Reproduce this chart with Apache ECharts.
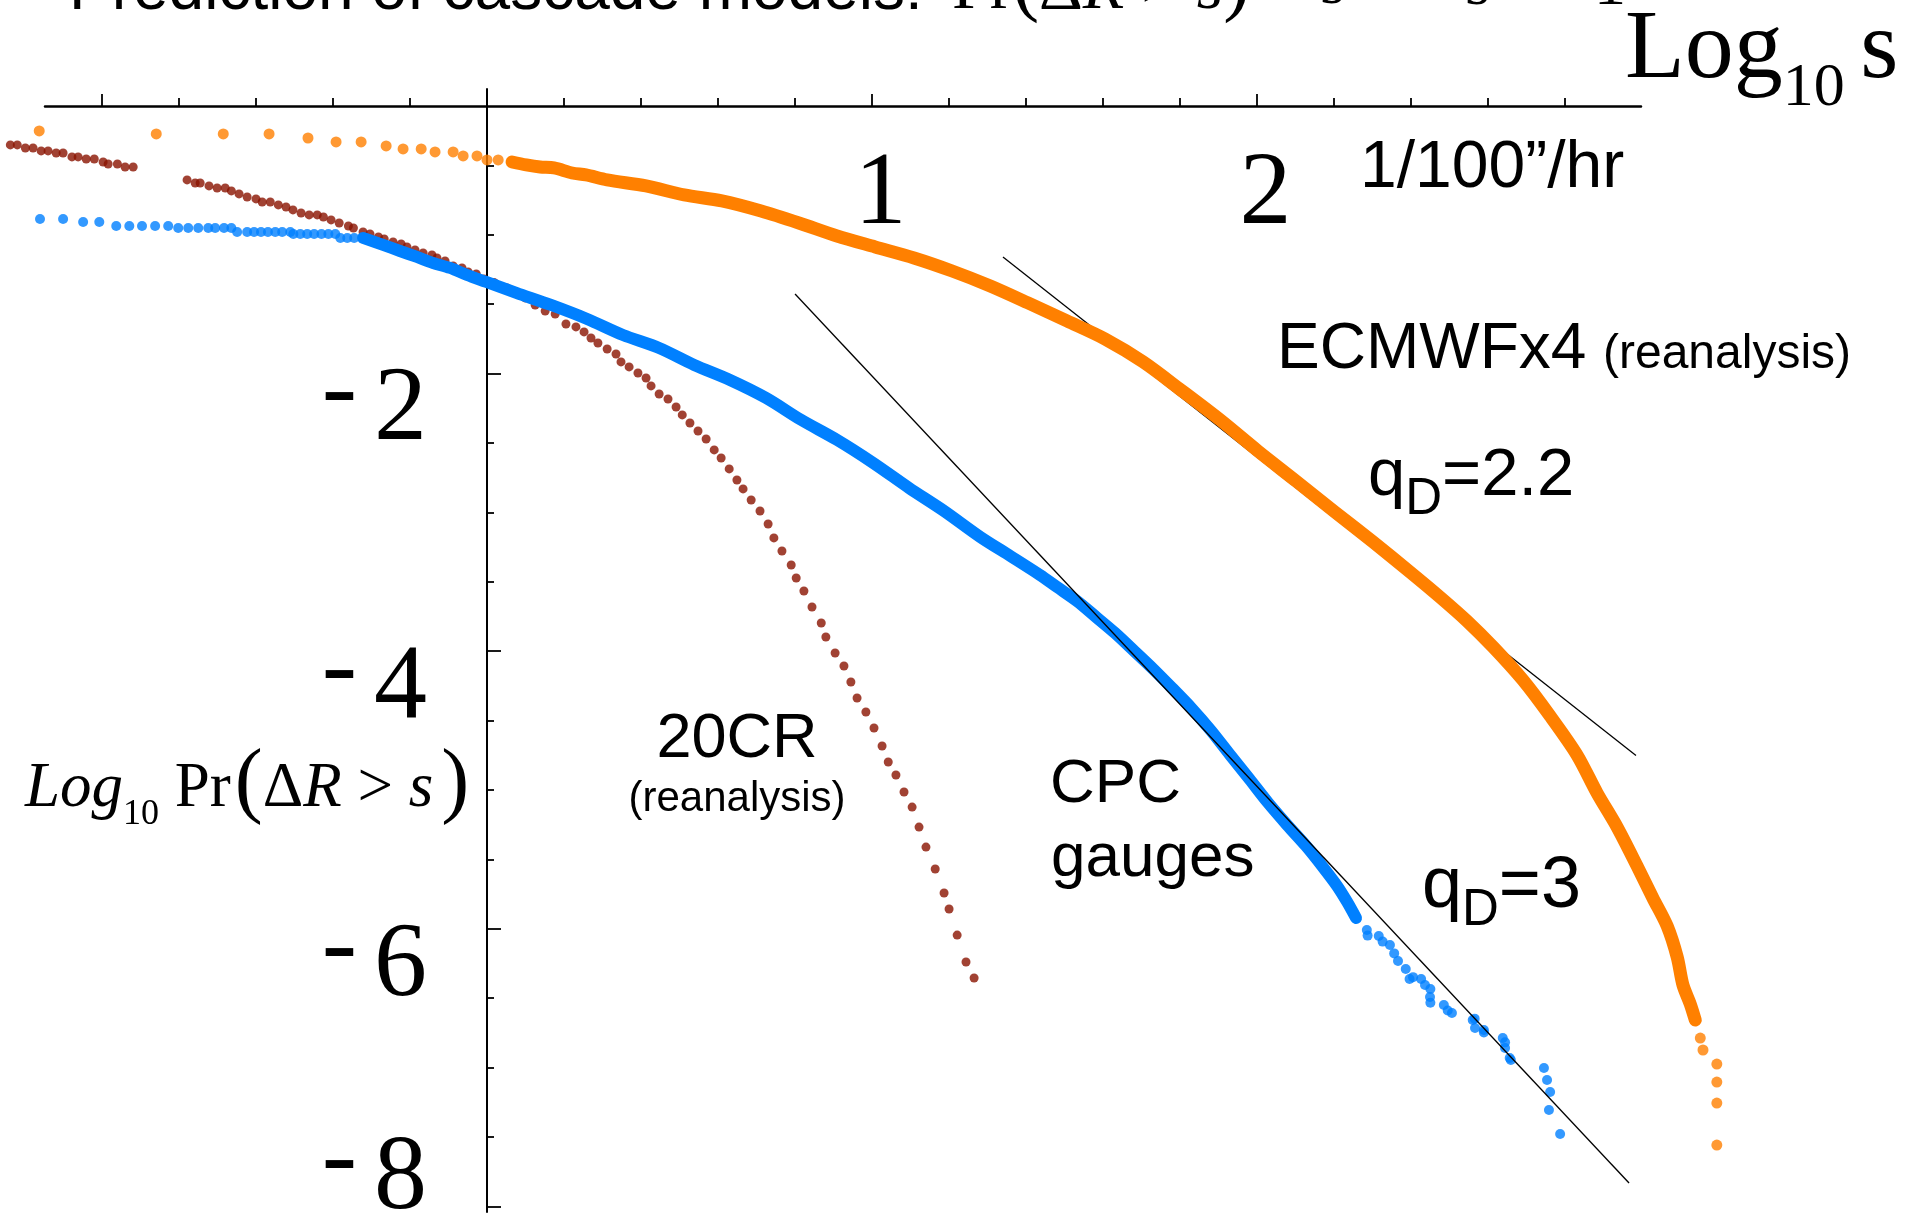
<!DOCTYPE html>
<html>
<head>
<meta charset="utf-8">
<style>
html,body{margin:0;padding:0;background:#fff;}
#main{width:1923px;height:1217px;}
</style>
<script src="https://cdn.jsdelivr.net/npm/echarts@6.0.0/dist/echarts.min.js"></script>
</head>
<body>
<div id="main"></div>
<script>
// axes: log10 s (x), log10 Pr(dR > s) (y)
var xMin = -1.148, xMax = 2.997, xDataMax = 3.2;
var xMajorTicks = [-1, 0, 1, 2];
var xMinorTicks = [-0.8, -0.6, -0.4, -0.2, 0.2, 0.4, 0.6, 0.8, 1.2, 1.4, 1.6, 1.8, 2.2, 2.4, 2.6, 2.8];
var xTickLabels = [1, 2];
var yMin = -8.04, yMax = 0.05;
var yMajorTicks = [-2, -4, -6, -8];
var yMinorTicks = [-0.5, -1, -1.5, -2.5, -3, -3.5, -4.5, -5, -5.5, -6.5, -7, -7.5];
var yTickLabels = [-2, -4, -6, -8];

// ECMWFx4 (orange)
var ecmwfSparse = [[-1.163,-0.252],[-0.859,-0.274],[-0.685,-0.274],[-0.566,-0.274],[-0.465,-0.303],[-0.392,-0.331],
  [-0.327,-0.331],[-0.262,-0.360],[-0.218,-0.382],[-0.171,-0.382],[-0.135,-0.403],[-0.088,-0.403],[-0.062,-0.432],
  [-0.026,-0.432],[0.000,-0.461],[0.029,-0.461]];
var ecmwfBand = [[0.065,-0.476],[0.102,-0.497],[0.138,-0.512],[0.174,-0.519],[0.221,-0.555],
  [0.257,-0.569],[0.312,-0.605],[0.413,-0.648],[0.512,-0.713],[0.610,-0.756],[0.712,-0.829],[0.810,-0.915],
  [0.909,-1.009],[1.008,-1.088],[1.109,-1.167],[1.208,-1.261],[1.307,-1.369],[1.405,-1.491],[1.506,-1.621],[1.605,-1.751],
  [1.704,-1.916],[1.802,-2.118],[1.904,-2.334],[2.002,-2.558],[2.101,-2.774],[2.202,-2.997],[2.301,-3.213],[2.397,-3.429],
  [2.475,-3.610],[2.545,-3.782],[2.613,-3.970],[2.690,-4.207],[2.761,-4.467],[2.831,-4.748],[2.883,-5.022],[2.935,-5.267],
  [2.987,-5.548],[3.028,-5.778],[3.065,-5.980],[3.091,-6.203],[3.106,-6.405],[3.125,-6.542],[3.138,-6.657]];
var ecmwfTail = [[3.151,-6.787],[3.158,-6.873],[3.194,-6.974],[3.194,-7.104],[3.194,-7.255],[3.194,-7.558]];

// CPC gauges (blue)
var cpcSparse = [[-1.161,-0.886],[-1.101,-0.886],[-1.049,-0.908],[-1.007,-0.908],[-0.963,-0.937],[-0.929,-0.937],
  [-0.896,-0.937],[-0.862,-0.937],[-0.828,-0.937],[-0.802,-0.951],[-0.776,-0.951],[-0.750,-0.951],[-0.724,-0.951],
  [-0.706,-0.951],[-0.683,-0.951],[-0.664,-0.951],[-0.649,-0.980],[-0.623,-0.980],[-0.605,-0.980],[-0.587,-0.980],
  [-0.569,-0.980],[-0.550,-0.980],[-0.532,-0.980],[-0.511,-0.980],[-0.503,-0.994],[-0.485,-0.994],[-0.467,-0.994],
  [-0.449,-0.994],[-0.430,-0.994],[-0.412,-0.994],[-0.394,-0.994],[-0.381,-1.023],[-0.363,-1.023],[-0.345,-1.023]];
var cpcBand = [[-0.322,-1.023],[-0.270,-1.073],[-0.226,-1.117],[-0.182,-1.160],[-0.140,-1.203],[-0.096,-1.239],
  [-0.052,-1.290],[-0.002,-1.340],[0.076,-1.419],[0.166,-1.506],[0.260,-1.607],[0.353,-1.722],[0.447,-1.816],
  [0.538,-1.938],[0.631,-2.046],[0.725,-2.176],[0.816,-2.334],[0.909,-2.478],[1.003,-2.644],[1.096,-2.824],
  [1.187,-2.990],[1.281,-3.177],[1.359,-3.314],[1.436,-3.451],[1.480,-3.537],[1.532,-3.638],[1.582,-3.754],
  [1.631,-3.869],[1.681,-3.999],[1.730,-4.128],[1.779,-4.265],[1.829,-4.409],[1.881,-4.575],[1.930,-4.748],
  [1.980,-4.921],[2.029,-5.094],[2.078,-5.252],[2.127,-5.403],[2.169,-5.548],[2.208,-5.692],[2.234,-5.807],[2.257,-5.922]];
var cpcTail = [[2.285,-6.009],[2.287,-6.049],[2.316,-6.052],[2.326,-6.092],[2.345,-6.117],[2.356,-6.177],[2.366,-6.232],
  [2.386,-6.290],[2.396,-6.362],[2.405,-6.348],[2.426,-6.362],[2.436,-6.405],[2.450,-6.434],[2.449,-6.491],[2.450,-6.532],
  [2.485,-6.549],[2.495,-6.589],[2.506,-6.607],[2.560,-6.657],[2.565,-6.647],[2.566,-6.715],[2.589,-6.729],[2.589,-6.746],
  [2.638,-6.787],[2.644,-6.818],[2.644,-6.859],[2.656,-6.931],[2.659,-6.945],[2.745,-7.003],[2.753,-7.089],[2.761,-7.176],
  [2.758,-7.305],[2.787,-7.478]];

// 20CR (dark red)
var cr20 = [[-1.238,-0.353],[-1.220,-0.353],[-1.199,-0.375],[-1.179,-0.375],[-1.158,-0.396],[-1.140,-0.396],
  [-1.119,-0.411],[-1.101,-0.411],[-1.078,-0.439],[-1.062,-0.439],[-1.041,-0.454],[-1.020,-0.454],[-0.997,-0.476],
  [-0.984,-0.490],[-0.960,-0.490],[-0.940,-0.512],[-0.919,-0.512],
  [-0.779,-0.605],[-0.758,-0.627],[-0.745,-0.627],[-0.722,-0.648],[-0.701,-0.663],[-0.680,-0.663],[-0.664,-0.684],
  [-0.644,-0.706],[-0.623,-0.728],[-0.600,-0.742],[-0.584,-0.764],[-0.563,-0.764],[-0.542,-0.785],[-0.522,-0.800],
  [-0.504,-0.821],[-0.483,-0.843],[-0.462,-0.857],[-0.441,-0.857],[-0.425,-0.872],[-0.405,-0.893],[-0.384,-0.915],
  [-0.360,-0.937],[-0.347,-0.951],[-0.322,-0.980],[-0.304,-0.994],[-0.282,-1.016],[-0.267,-1.030],[-0.244,-1.052],
  [-0.223,-1.066],[-0.208,-1.088],[-0.187,-1.110],[-0.166,-1.131],[-0.143,-1.146],[-0.130,-1.167],[-0.109,-1.189],
  [-0.088,-1.225],[-0.065,-1.239],[-0.049,-1.268],[-0.028,-1.282],[-0.008,-1.318],
  [0.018,-1.344],[0.052,-1.383],[0.076,-1.419],[0.099,-1.455],[0.125,-1.506],[0.151,-1.549],[0.177,-1.571],
  [0.205,-1.643],[0.231,-1.664],[0.252,-1.700],[0.270,-1.744],[0.288,-1.780],[0.312,-1.823],[0.335,-1.859],
  [0.348,-1.916],[0.369,-1.952],[0.392,-1.996],[0.413,-2.032],[0.426,-2.089],[0.447,-2.147],[0.470,-2.183],
  [0.491,-2.241],[0.507,-2.298],[0.527,-2.356],[0.548,-2.414],[0.569,-2.471],[0.590,-2.550],[0.608,-2.608],
  [0.629,-2.687],[0.649,-2.767],[0.665,-2.831],[0.686,-2.911],[0.709,-2.990],[0.730,-3.084],[0.745,-3.184],
  [0.766,-3.278],[0.790,-3.379],[0.803,-3.473],[0.823,-3.566],[0.844,-3.682],[0.868,-3.797],[0.880,-3.898],
  [0.904,-4.013],[0.927,-4.107],[0.945,-4.222],[0.961,-4.337],[0.984,-4.438],[1.005,-4.553],[1.026,-4.683],
  [1.042,-4.798],[1.062,-4.892],[1.083,-5.014],[1.104,-5.123],[1.122,-5.267],[1.140,-5.411],[1.164,-5.569],
  [1.187,-5.742],[1.200,-5.857],[1.221,-6.045],[1.244,-6.239],[1.265,-6.354]];

// fitted power-law lines
var fitQ3 = [[0.800,-1.427],[2.966,-7.831]];
var fitQ22 = [[1.340,-1.160],[2.984,-4.751]];

var ORANGE = '#ff8000', BLUE = '#0080ff', RED = '#8a1300';
var SERIF = 'Liberation Serif', SANS = 'Liberation Sans';

var myChart = echarts.init(document.getElementById('main'));

function txt(x, y, text, rich, align) {
    return {
        type: 'text', x: x, y: y, silent: true,
        style: {
            text: text, rich: rich, fill: '#000',
            align: align || 'left', verticalAlign: 'middle'
        }
    };
}
var sans = function (size, pad) {
    return {fontFamily: SANS, fontSize: size, fill: '#000', padding: pad || 0, verticalAlign: 'middle'};
};
var serif = function (size, pad, italic) {
    return {fontFamily: SERIF, fontSize: size, fill: '#000', padding: pad || 0, verticalAlign: 'middle',
        fontStyle: italic ? 'italic' : 'normal'};
};

var graphics = [
    // title (mostly off the top edge)
    txt(69, -9, '{a|Prediction of cascade models:}', {a: sans(64)}),
    txt(952, -10, '{a|Pr}{p|(}{a|Δ}{i|R}{a| > }{i|s}{p|)}',
        {a: serif(68), i: serif(68, 0, true), p: serif(80, [0, 0, 10, 0])}),
    txt(1270, -14, '{a|≈}', {a: serif(64)}),
    txt(1320, -14, '{a|s}', {a: serif(64)}),
    txt(1347, -70, '{a|−q}{d|D}', {a: serif(40), d: serif(28, [20, 0, 0, 0])}),
    txt(1465, -13, '{a|s >> 1}', {a: serif(64)}),
    // axis names
    txt(1625, 51, '{a|Log}{s|10 }{a|s}', {a: serif(98), s: serif(62, [76, 0, 0, 0])}),
    txt(1360, 169, '{a|1/100”/hr}', {a: sans(66)}),
    txt(25, 789, '{i|Log}{s|10}{a| Pr}{p|(}{a|Δ}{i|R}{a| > }{i|s}{q|)}',
        {a: serif(63), i: serif(63, 0, true), s: serif(36, [52, 0, 0, 0]),
         p: serif(84, [0, 0, 8, 4]), q: serif(84, [0, 0, 8, 8])}),
    // series annotations
    txt(1277, 350, '{a|ECMWFx4}', {a: sans(64)}),
    txt(1603, 355, '{a|(reanalysis)}', {a: sans(48)}),
    txt(1368, 477, '{a|q}{d|D}{a|=2.2}', {a: sans(67), d: sans(51, [45, 0, 0, 0])}),
    txt(1422, 887, '{a|q}{d|D}{a|=3}', {a: sans(72), d: sans(51, [47, 0, 0, 0])}),
    txt(737, 740, '{a|20CR}', {a: sans(63)}, 'center'),
    txt(737, 799, '{a|(reanalysis)}', {a: sans(42)}, 'center'),
    txt(1050, 785, '{a|CPC}', {a: sans(62)}),
    txt(1051, 859, '{a|gauges}', {a: sans(62)})
];

// grid 0 carries the visible axes, grid 1 (same scale, wider) carries the data
var gridTop = 89, gridBottom = 5, gridLeft = 45, pxPerUnit = 385.04;
var yAxisOffset = -(0 - xMin) * pxPerUnit;

var option = {
    animation: false,
    backgroundColor: '#fff',
    grid: [
        {left: gridLeft, right: 1923 - gridLeft - (xMax - xMin) * pxPerUnit, top: gridTop, bottom: gridBottom,
            containLabel: false, outerBoundsMode: 'none'},
        {left: gridLeft, right: 1923 - gridLeft - (xDataMax - xMin) * pxPerUnit, top: gridTop, bottom: gridBottom,
            containLabel: false, outerBoundsMode: 'none'}
    ],
    xAxis: [{
        gridIndex: 0, type: 'value', min: xMin, max: xMax, position: 'top', offset: -17,
        axisLine: {onZero: false, lineStyle: {color: '#000', width: 2.5}},
        axisTick: {length: 12, customValues: xMajorTicks, lineStyle: {color: '#000', width: 1.8}},
        axisLabel: {inside: true, margin: 38, customValues: xTickLabels, color: '#000',
            fontFamily: SERIF, fontSize: 104, padding: [0, 0, 0, 17]},
        splitLine: {show: false}
    }, {
        gridIndex: 0, type: 'value', min: xMin, max: xMax, position: 'top', offset: -17,
        axisLine: {show: false, onZero: false},
        axisTick: {length: 8, customValues: xMinorTicks, lineStyle: {color: '#000', width: 1.8}},
        axisLabel: {show: false},
        splitLine: {show: false}
    }, {
        gridIndex: 1, type: 'value', min: xMin, max: xDataMax, show: false
    }],
    yAxis: [{
        gridIndex: 0, type: 'value', min: yMin, max: yMax, position: 'left', offset: yAxisOffset,
        axisLine: {show: true, onZero: false, lineStyle: {color: '#000', width: 2}},
        axisTick: {inside: true, length: 14, customValues: yMajorTicks, lineStyle: {color: '#000', width: 1.8}},
        axisLabel: {
            show: true, margin: 60, customValues: yTickLabels, color: '#000',
            formatter: function (v) {
                var digit = String(Math.abs(v));
                if (v === yTickLabels[yTickLabels.length - 1]) return '{m2|-}{d2|' + digit + '}';
                return '{m|-}{d|' + digit + '}';
            },
            rich: {
                m: {fontFamily: SERIF, fontSize: 106, color: '#000', padding: [40, 17, 0, 0], verticalAlign: 'middle'},
                d: {fontFamily: SERIF, fontSize: 106, color: '#000', padding: [76, 0, 0, 0], verticalAlign: 'middle'},
                m2: {fontFamily: SERIF, fontSize: 106, color: '#000', padding: [0, 17, 90, 0], verticalAlign: 'middle'},
                d2: {fontFamily: SERIF, fontSize: 106, color: '#000', padding: [0, 0, 53, 0], verticalAlign: 'middle'}
            }
        },
        splitLine: {show: false}
    }, {
        gridIndex: 0, type: 'value', min: yMin, max: yMax, position: 'left', offset: yAxisOffset,
        axisLine: {show: false, onZero: false},
        axisTick: {inside: true, length: 7, customValues: yMinorTicks, lineStyle: {color: '#000', width: 1.8}},
        axisLabel: {show: false},
        splitLine: {show: false}
    }, {
        gridIndex: 1, type: 'value', min: yMin, max: yMax, show: false
    }],
    graphic: {elements: graphics},
    series: [
        {type: 'line', xAxisIndex: 2, yAxisIndex: 2, data: fitQ22, symbol: 'none', silent: true, clip: false,
            lineStyle: {color: '#000', width: 1.3}},
        {type: 'line', xAxisIndex: 2, yAxisIndex: 2, data: ecmwfBand, symbol: 'none', smooth: 0.3, silent: true,
            clip: false, lineStyle: {color: ORANGE, width: 13, cap: 'round', join: 'round'}},
        {type: 'scatter', xAxisIndex: 2, yAxisIndex: 2, data: ecmwfSparse.concat(ecmwfBand, ecmwfTail),
            symbolSize: 11, silent: true, clip: false, itemStyle: {color: ORANGE}},
        {type: 'line', xAxisIndex: 2, yAxisIndex: 2, data: cpcBand, symbol: 'none', smooth: 0.3, silent: true,
            clip: false, lineStyle: {color: BLUE, width: 12, cap: 'round', join: 'round'}},
        {type: 'scatter', xAxisIndex: 2, yAxisIndex: 2, data: cpcSparse.concat(cpcBand, cpcTail),
            symbolSize: 10, silent: true, clip: false, itemStyle: {color: BLUE}},
        {type: 'scatter', xAxisIndex: 2, yAxisIndex: 2, data: cr20, symbolSize: 9, silent: true, clip: false,
            itemStyle: {color: RED}},
        {type: 'line', xAxisIndex: 2, yAxisIndex: 2, data: fitQ3, symbol: 'none', silent: true, clip: false,
            lineStyle: {color: '#000', width: 1.3}}
    ]
};
myChart.setOption(option);
</script>
</body>
</html>
